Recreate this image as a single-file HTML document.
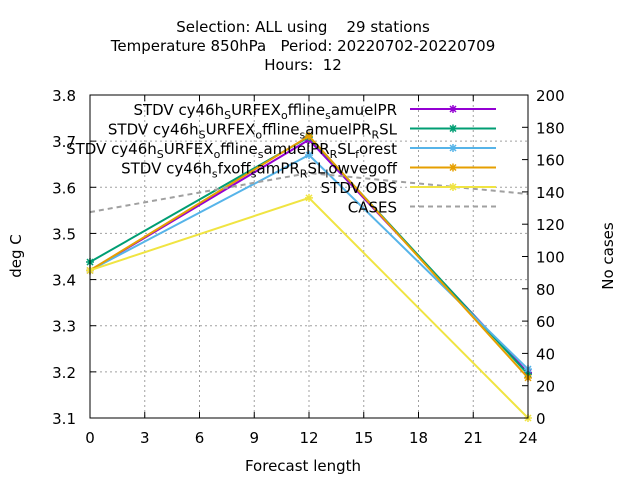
<!DOCTYPE html>
<html><head><meta charset="utf-8"><style>
body{margin:0;background:#fff;}
svg text{font-family:"DejaVu Sans","Liberation Sans",sans-serif;font-size:15px;fill:#000;}
</style></head><body>
<svg width="640" height="480" id="c">
<text x="303" y="32" text-anchor="middle" xml:space="preserve">Selection: ALL using    29 stations</text>
<text x="303" y="51" text-anchor="middle" xml:space="preserve">Temperature 850hPa   Period: 20220702-20220709</text>
<text x="303" y="70" text-anchor="middle" xml:space="preserve">Hours:  12</text>
<text x="303" y="471" text-anchor="middle">Forecast length</text>
<text transform="translate(21,256) rotate(-90)" text-anchor="middle">deg C</text>
<text transform="translate(613,256) rotate(-90)" text-anchor="middle">No cases</text>
<g id="grid"></g><g id="series"></g><g id="legend"></g>
<rect x="90" y="95" width="438" height="323" fill="none" stroke="#000" stroke-width="1"/>
</svg>
<script>
const xs=[0,12,24];
const xTicks=[0,3,6,9,12,15,18,21,24];
const yTicks=[3.1,3.2,3.3,3.4,3.5,3.6,3.7,3.8];
const y2Ticks=[0,20,40,60,80,100,120,140,160,180,200];
const sPurple=[3.42,3.703,3.198];
const sGreen=[3.438,3.709,3.195];
const sBlue=[3.42,3.67,3.206];
const sOrange=[3.42,3.711,3.187];
const sObs=[3.42,3.577,3.10];
const cases=[127.5,151.7,138.7];
const names=["STDV cy46h_SURFEX_offline_samuelPR","STDV cy46h_SURFEX_offline_samuelPR_RSL","STDV cy46h_SURFEX_offline_samuelPR_RSL_forest","STDV cy46h_sfxoff_samPR_RSL_lowvegoff","STDV OBS","CASES"];
const L=90,R=528,T=95,B=418,NS="http://www.w3.org/2000/svg";
const X=v=>L+(v-0)/24*(R-L), Y=v=>B-(v-3.1)/0.7*(B-T), Y2=v=>B-v/200*(B-T);
function mk(t,a,p){const e=document.createElementNS(NS,t);for(const k in a)e.setAttribute(k,a[k]);p.appendChild(e);return e;}
const g=document.getElementById('grid');
xTicks.forEach(t=>{const x=X(t);
 if(t>0&&t<24){const l=mk('line',{x1:x,x2:x,y1:T,y2:B,stroke:'#a0a0a0','stroke-dasharray':'2,3'},g);}
 mk('line',{x1:x,x2:x,y1:B,y2:B-6,stroke:'#000'},g);mk('line',{x1:x,x2:x,y1:T,y2:T+6,stroke:'#000'},g);
 const tx=mk('text',{x:x,y:B+25,'text-anchor':'middle','font-size':'16px'},g);tx.textContent=t;});
yTicks.forEach(t=>{const y=Y(t);
 if(t>3.1&&t<3.8){const l=mk('line',{x1:L,x2:R,y1:y,y2:y,stroke:'#a0a0a0','stroke-dasharray':'2,3'},g);}
 mk('line',{x1:L,x2:L+6,y1:y,y2:y,stroke:'#000'},g);
 const tx=mk('text',{x:L-14,y:y+6,'text-anchor':'end','font-size':'16px'},g);tx.textContent=t.toFixed(1);});
y2Ticks.forEach(t=>{const y=Y2(t);mk('line',{x1:R,x2:R-6,y1:y,y2:y,stroke:'#000'},g);
 const tx=mk('text',{x:R+8,y:y+6,'font-size':'16px'},g);tx.textContent=t;});
const s=document.getElementById('series'),lg=document.getElementById('legend');
function star(p,x,y,c){mk('path',{d:`M${x-4},${y}h8M${x},${y-4}v8M${x-3},${y-3}l6,6M${x-3},${y+3}l6,-6`,stroke:c,'stroke-width':1.5},p);}
const defs=[[sPurple,'#9400d3'],[sGreen,'#009e73'],[sBlue,'#56b4e9'],[sOrange,'#e69f00'],[sObs,'#f0e442']];
defs.forEach((d,i)=>{const grp=mk('g',{},s);
 mk('polyline',{points:xs.map((x,j)=>X(x)+','+Y(d[0][j])).join(' '),fill:'none',stroke:d[1],'stroke-width':2},grp);
 xs.forEach((x,j)=>star(grp,X(x),Y(d[0][j]),d[1]));});
const cg=mk('polyline',{points:xs.map((x,j)=>X(x)+','+Y2(cases[j])).join(' '),fill:'none',stroke:'#a0a0a0','stroke-width':2,'stroke-dasharray':'5,4'},s);

function label(p,x,y,txt){const t=mk('text',{x:x,y:y,'text-anchor':'end','font-size':'15.5px'},p);
 const parts=txt.split('_');parts.forEach((pt,i)=>{if(i==0){t.appendChild(document.createTextNode(pt));return;}
  const sub=mk('tspan',{dy:4,'font-size':'11px'},t);sub.textContent=pt[0];const r=mk('tspan',{dy:-4},t);r.textContent=pt.slice(1);});}
names.forEach((n,i)=>{const y=109+i*19.5;const e=mk('g',{},lg);
 label(e,397,y+6,n);
 if(i<5){mk('line',{x1:410,x2:496,y1:y,y2:y,stroke:defs[i][1],'stroke-width':2},e);star(e,453,y,defs[i][1]);}
 else mk('line',{x1:410,x2:496,y1:y,y2:y,stroke:'#a0a0a0','stroke-width':2,'stroke-dasharray':'5,4'},e);});
</script>
</body></html>
